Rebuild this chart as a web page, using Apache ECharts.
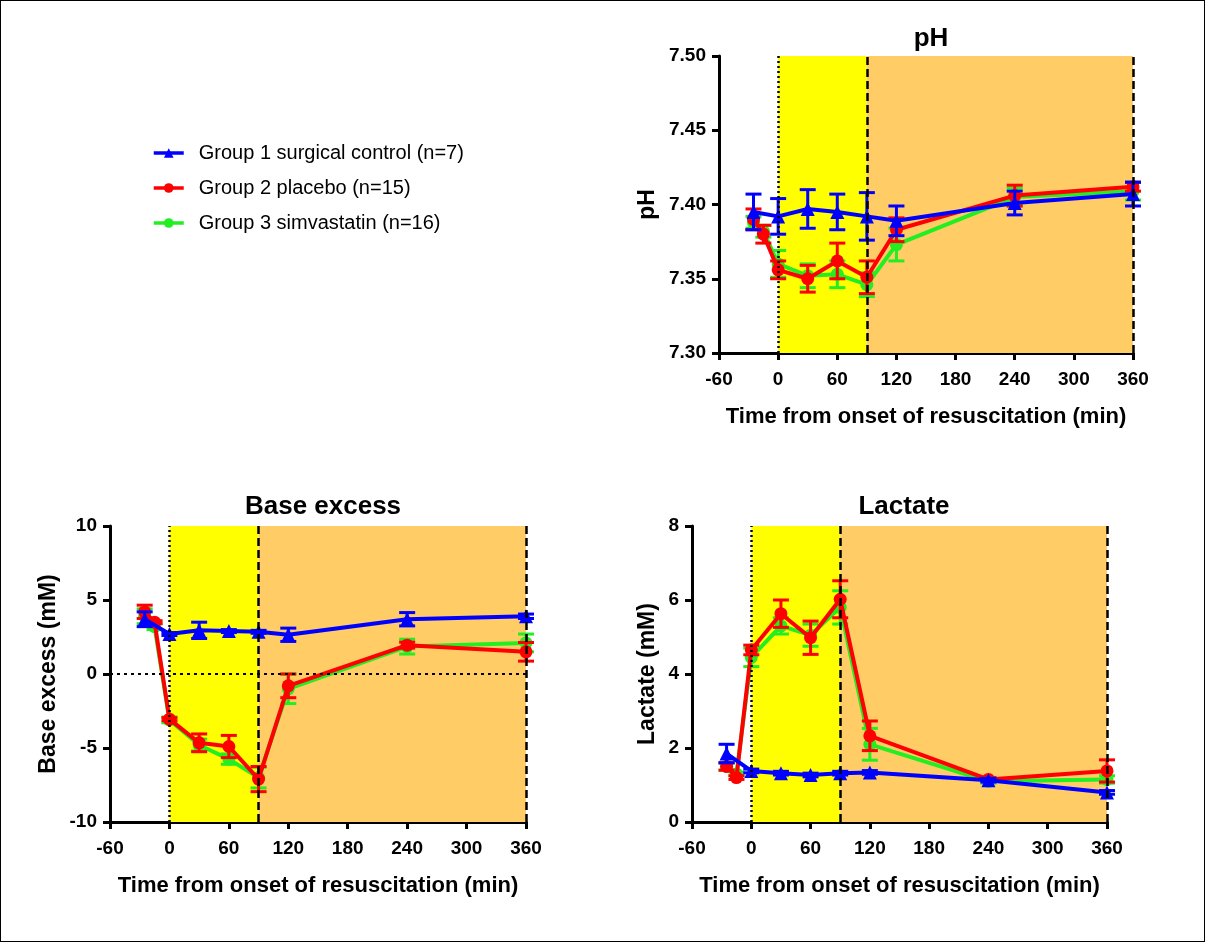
<!DOCTYPE html>
<html><head><meta charset="utf-8">
<script src="https://cdn.jsdelivr.net/npm/echarts@6/dist/echarts.min.js"></script>
<style>
html,body{margin:0;padding:0;background:#fff;}
#c{width:1205px;height:942px;box-sizing:border-box;border:1px solid #000;}
</style></head>
<body><div id="c"></div>
<script>
// ---- data ----
const groupNames = ['Group 1 surgical control (n=7)', 'Group 2 placebo (n=15)', 'Group 3 simvastatin (n=16)'];
const timesG1 = [-25, 0, 30, 60, 90, 120, 240, 360];
const timesG23 = [-25, -15, 0, 30, 60, 90, 120, 240, 360];
const xTicks = [-60, 0, 60, 120, 180, 240, 300, 360];

const phG1 = [7.395, 7.392, 7.397, 7.395, 7.392, 7.389, 7.401, 7.407];
const phG1Err = [0.012, 0.012, 0.013, 0.012, 0.016, 0.010, 0.008, 0.008];
const phG2 = [7.390, 7.380, 7.356, 7.350, 7.362, 7.351, 7.383, 7.406, 7.412];
const phG2Err = [0.007, 0.006, 0.006, 0.009, 0.012, 0.011, 0.008, 0.007, 0.003];
const phG3 = [7.388, 7.382, 7.360, 7.352, 7.353, 7.346, 7.373, 7.405, 7.409];
const phG3Err = [0.004, 0.004, 0.009, 0.008, 0.009, 0.008, 0.011, 0.006, 0.006];

const beG1 = [3.7, 2.7, 2.95, 2.9, 2.85, 2.65, 3.7, 3.9];
const beG1Err = [0.5, 0.1, 0.55, 0.1, 0.1, 0.45, 0.45, 0.15];
const beG2 = [4.2, 3.5, -3.05, -4.65, -4.9, -7.1, -0.8, 1.95, 1.5];
const beG2Err = [0.45, 0.1, 0.1, 0.6, 0.75, 0.85, 0.8, 0.2, 0.63];
const beG3 = [3.9, 3.2, -3.1, -4.8, -5.75, -7.0, -1.0, 1.85, 2.1];
const beG3Err = [0.5, 0.2, 0.2, 0.4, 0.35, 0.7, 1.0, 0.5, 0.6];

const laG1 = [1.85, 1.38, 1.32, 1.27, 1.32, 1.34, 1.13, 0.8];
const laG1Err = [0.25, 0.05, 0.05, 0.05, 0.05, 0.05, 0.05, 0.05];
const laG2 = [1.5, 1.2, 4.65, 5.63, 4.98, 6.02, 2.33, 1.15, 1.38];
const laG2Err = [0.1, 0.05, 0.13, 0.37, 0.45, 0.5, 0.4, 0.05, 0.3];
const laG3 = [1.5, 1.3, 4.45, 5.3, 5.05, 5.8, 2.1, 1.1, 1.15];
const laG3Err = [0.1, 0.05, 0.25, 0.22, 0.3, 0.45, 0.43, 0.05, 0.1];

const colors = ['#0000ff', '#ff0000', '#22ee22'];
const symbols = ['triangle', 'circle', 'circle'];
const FONT = 'Liberation Sans';

// ---- helpers ----
function errData(times, vals, errs) {
  return times.map((t, i) => [t, vals[i] - errs[i], vals[i] + errs[i]]);
}
function lineData(times, vals) { return times.map((t, i) => [t, vals[i]]); }
function errSeries(idx, color, data, z) {
  return {
    type: 'custom', xAxisIndex: idx, yAxisIndex: idx, z: z, silent: true,
    encode: { x: 0, y: [1, 2] }, data: data,
    renderItem: function (params, api) {
      const x = api.value(0), lo = api.value(1), hi = api.value(2);
      const a = api.coord([x, hi]), b = api.coord([x, lo]);
      const w = 8, st = { stroke: color, lineWidth: 3 };
      return { type: 'group', children: [
        { type: 'line', shape: { x1: a[0], y1: a[1], x2: b[0], y2: b[1] }, style: st },
        { type: 'line', shape: { x1: a[0] - w, y1: a[1], x2: a[0] + w, y2: a[1] }, style: st },
        { type: 'line', shape: { x1: b[0] - w, y1: b[1], x2: b[0] + w, y2: b[1] }, style: st }
      ] };
    }
  };
}
function lineSeries(idx, g, data, z) {
  return {
    type: 'line', name: groupNames[g], xAxisIndex: idx, yAxisIndex: idx, z: z,
    data: data, symbol: symbols[g], symbolSize: g === 0 ? 14 : 13,
    itemStyle: { color: colors[g] }, lineStyle: { color: colors[g], width: 4 },
    emphasis: { disabled: true }, animation: false
  };
}
function bgSeries(idx, zeroLine) {
  const lines = [
    { xAxis: 0, lineStyle: { type: [2, 3], width: 2.5, color: '#000' } },
    { xAxis: 90, lineStyle: { type: [8, 4], width: 2.5, color: '#000' } },
    { xAxis: 360, lineStyle: { type: [8, 4], width: 2.5, color: '#000' } }
  ];
  if (zeroLine) lines.push({ yAxis: 0, lineStyle: { type: [3, 4], width: 2, color: '#000' } });
  return {
    type: 'line', xAxisIndex: idx, yAxisIndex: idx, z: 1, data: [], silent: true,
    markArea: { silent: true, itemStyle: { opacity: 1 }, data: [
      [{ xAxis: 0, itemStyle: { color: '#ffff00' } }, { xAxis: 90 }],
      [{ xAxis: 90, itemStyle: { color: '#ffcc66' } }, { xAxis: 360 }]
    ] },
    markLine: { silent: true, symbol: 'none', label: { show: false }, data: lines, animation: false }
  };
}
const axisLbl = { color: '#000', fontFamily: FONT, fontWeight: 'bold', fontSize: 19 };
const xNameStyle = { color: '#000', fontFamily: FONT, fontWeight: 'bold', fontSize: 22 };
const yNameStyle = { color: '#000', fontFamily: FONT, fontWeight: 'bold', fontSize: 23 };
function xAx(idx) {
  return {
    type: 'value', gridIndex: idx, min: -60, max: 360, interval: 60,
    name: 'Time from onset of resuscitation (min)', nameLocation: 'middle', nameGap: 53,
    nameTextStyle: xNameStyle,
    axisLine: { show: true, onZero: false, lineStyle: { color: '#000', width: 3 } },
    axisTick: { show: true, length: 7, lineStyle: { color: '#000', width: 3 } },
    axisLabel: Object.assign({ margin: 17 }, axisLbl),
    splitLine: { show: false }
  };
}
function yAx(idx, min, max, interval, name, gap, dec) {
  return {
    type: 'value', gridIndex: idx, min: min, max: max, interval: interval,
    name: name, nameLocation: 'middle', nameGap: gap, nameTextStyle: yNameStyle,
    axisLine: { show: true, onZero: false, lineStyle: { color: '#000', width: 3 } },
    axisTick: { show: true, length: 7, lineStyle: { color: '#000', width: 3 } },
    axisLabel: Object.assign({ margin: 13, formatter: v => v.toFixed(dec) }, axisLbl),
    splitLine: { show: false }
  };
}

const series = [];
const panels = [
  [phG1, phG1Err, phG2, phG2Err, phG3, phG3Err, false],
  [beG1, beG1Err, beG2, beG2Err, beG3, beG3Err, true],
  [laG1, laG1Err, laG2, laG2Err, laG3, laG3Err, false]
];
panels.forEach((p, idx) => {
  series.push(bgSeries(idx, p[6]));
  series.push(errSeries(idx, colors[2], errData(timesG23, p[4], p[5]), 2));
  series.push(lineSeries(idx, 2, lineData(timesG23, p[4]), 2));
  series.push(errSeries(idx, colors[1], errData(timesG23, p[2], p[3]), 3));
  series.push(lineSeries(idx, 1, lineData(timesG23, p[2]), 3));
  series.push(errSeries(idx, colors[0], errData(timesG1, p[0], p[1]), 4));
  series.push(lineSeries(idx, 0, lineData(timesG1, p[0]), 4));
});

const titleStyle = { color: '#000', fontFamily: FONT, fontWeight: 'bold', fontSize: 26 };
const option = {
  animation: false,
  title: [
    { text: 'pH', left: 925, top: 20, textAlign: 'center', textStyle: titleStyle },
    { text: 'Base excess', left: 317, top: 488, textAlign: 'center', textStyle: titleStyle },
    { text: 'Lactate', left: 898, top: 488, textAlign: 'center', textStyle: titleStyle }
  ],
  legend: {
    orient: 'vertical', left: 146, top: 137, itemGap: 15, itemWidth: 30, itemHeight: 12,
    data: groupNames, selectedMode: false,
    lineStyle: { width: 3.5 },
    textStyle: { color: '#000', fontFamily: FONT, fontSize: 20, padding: [0, 0, 0, 10] }
  },
  grid: [
    { left: 718, top: 55, width: 414, height: 297 },
    { left: 109, top: 525, width: 416, height: 296 },
    { left: 691, top: 525, width: 415, height: 296 }
  ],
  xAxis: [xAx(0), xAx(1), xAx(2)],
  yAxis: [
    yAx(0, 7.30, 7.50, 0.05, 'pH', 60, 2),
    yAx(1, -10, 10, 5, 'Base excess (mM)', 50, 0),
    yAx(2, 0, 8, 2, 'Lactate (mM)', 33, 0)
  ],
  series: series
};
const chart = echarts.init(document.getElementById('c'), null, { renderer: 'canvas' });
chart.setOption(option);
</script></body></html>
